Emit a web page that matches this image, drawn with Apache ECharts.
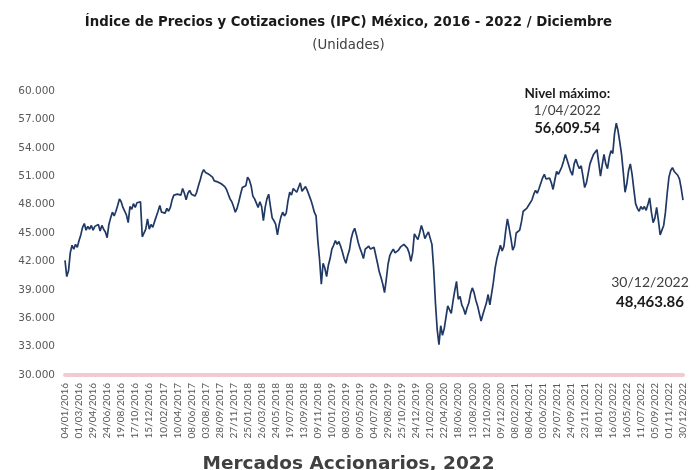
<!DOCTYPE html>
<html>
<head>
<meta charset="utf-8">
<script src="https://cdn.jsdelivr.net/npm/echarts@6/dist/echarts.min.js"></script>
<style>
html,body{margin:0;padding:0;background:#fff;}
#chart{width:697px;height:470px;}
</style>
</head>
<body>
<div id="chart"></div>
<script>
const tickLabels = ['04/01/2016','01/03/2016','29/04/2016','24/06/2016','19/08/2016','17/10/2016','15/12/2016','10/02/2017','10/04/2017','08/06/2017','03/08/2017','28/09/2017','27/11/2017','25/01/2018','26/03/2018','24/05/2018','19/07/2018','13/09/2018','09/11/2018','10/01/2019','08/03/2019','09/05/2019','04/07/2019','29/08/2019','25/10/2019','24/12/2019','21/02/2020','22/04/2020','18/06/2020','13/08/2020','12/10/2020','09/12/2020','08/02/2021','08/04/2021','03/06/2021','29/07/2021','24/09/2021','23/11/2021','18/01/2022','16/03/2022','16/05/2022','11/07/2022','05/09/2022','01/11/2022','30/12/2022'];

// approx. weekly samples (8 per tick interval)
const ipcValues = [
42100,40400,41000,42900,43700,43300,43800,43500,
44200,44800,45600,46000,45300,45700,45400,45800,
45300,45700,45500,45900,45200,45800,45400,45100,
44500,45900,46600,47200,46800,47300,47900,48600,
48300,47700,47900,46900,46100,47800,47500,48100,
47700,48200,48400,48300,44600,44500,45400,46500,
45400,45900,45600,46200,46100,47300,47900,47200,
47400,47100,47600,47300,47700,48500,49000,48800,
49100,49300,49000,49700,49200,48500,49200,49500,
49100,49300,48900,49300,50000,50600,51300,51700,
51400,51500,51200,51300,50900,50500,50300,50400,
50500,50200,50400,49900,49600,49100,48600,48300,
47800,47200,47600,48300,49100,49800,49600,50000,
50900,50600,50000,48900,48600,48400,47700,48300,
47800,46300,47700,48600,49100,47800,46600,46300,
45900,44800,45900,46700,47200,46800,47100,48400,
49300,49000,49700,49800,49300,49800,50300,49400,
49600,49900,49500,49700,48500,47900,47200,46800,
44200,42200,39600,41800,41300,40400,41600,42300,
43300,43700,44200,43800,44100,43600,43000,42300,
41800,42600,43200,44400,45100,45500,44800,44000,
43400,42900,42300,43300,43100,43600,43300,43200,
43500,43400,41800,40900,40300,39600,38700,40100,
41700,42600,43000,43300,42900,42700,43200,43500,
43400,43800,43900,43400,42900,42000,42900,44900,
44800,44300,45000,45800,45200,44400,44800,45100,
45000,43800,41200,37600,34800,33200,35200,34200,
34900,36100,37300,36900,36500,37800,38900,39900,
38000,38300,37400,37000,36400,37100,37600,38600,
39200,38700,37900,37300,36500,35700,36400,37000,
37600,38500,37400,37200,39800,41300,42300,43000,
43700,43100,43600,45200,46500,45500,44400,43200,
43600,45000,44800,45300,46200,47300,47100,47600,
47900,47700,48500,49100,49500,49200,49700,49900,
50800,51200,50700,50500,50800,50300,49600,50600,
51500,51200,51600,52000,52600,53300,52700,52100,
51500,51100,52300,52800,52200,51800,52100,51000,
49800,50300,51300,52300,52800,53300,53500,53800,
52400,51000,52200,53300,52300,51800,53000,53700,
53400,55500,56609.54,55800,54600,53300,51400,49300,
50200,51600,52300,51200,49600,48100,47600,47300,
47800,47500,47800,47400,48000,48700,47200,46100,
46600,47700,46300,44800,45300,45800,47200,49200,
50900,51600,51900,51500,51600,51100,50700,49700,
48463.86
];

const maxDate = '1/04/2022';
const lastDate = '30/12/2022';

const maxValue = Math.max(...ipcValues);
const maxIndex = ipcValues.indexOf(maxValue);
const lastIndex = ipcValues.length - 1;
const lastValue = ipcValues[lastIndex];
const fmt2 = v => v.toLocaleString('en-US', {minimumFractionDigits: 2, maximumFractionDigits: 2});
const fmtDot = v => String(v).replace(/\B(?=(\d{3})+(?!\d))/g, '.');

const FONT = 'Lato';
const WIDE = 'DejaVu Sans';
const chart = echarts.init(document.getElementById('chart'), null, {renderer: 'canvas'});
chart.setOption({
  animation: false,
  backgroundColor: '#ffffff',
  textStyle: {fontFamily: FONT},
  title: [
    {text: 'Índice de Precios y Cotizaciones (IPC) México, 2016 - 2022 / Diciembre',
     left: 'center', top: 11,
     textStyle: {fontFamily: WIDE, fontSize: 13.3, fontWeight: 'bold', color: '#1a1a1a'}},
    {text: '(Unidades)', left: 'center', top: 34,
     textStyle: {fontFamily: WIDE, fontSize: 13.3, fontWeight: 'normal', color: '#404040'}},
    {text: 'Mercados Accionarios, 2022', left: 'center', top: 450,
     textStyle: {fontFamily: WIDE, fontSize: 18.5, fontWeight: 'bold', color: '#404040'}}
  ],
  grid: {left: 65, right: 14, top: 91, bottom: 95, containLabel: false},
  xAxis: {
    type: 'value', min: 0, max: 352, interval: 8,
    axisLine: {show: true, onZero: false, lineStyle: {color: '#f1cbcf', width: 4}},
    axisTick: {show: false},
    splitLine: {show: false},
    axisLabel: {rotate: 90, fontSize: 10, color: '#595959', margin: 8,
      showMinLabel: true, showMaxLabel: true,
      formatter: v => tickLabels[Math.round(v / 8)] || ''}
  },
  yAxis: {
    type: 'value', min: 30000, max: 60000, interval: 3000,
    axisLine: {show: false}, axisTick: {show: false}, splitLine: {show: false},
    axisLabel: {fontFamily: WIDE, fontSize: 10.5, color: '#595959', margin: 10, formatter: v => fmtDot(v)}
  },
  series: [{
    type: 'line',
    data: ipcValues.map((v, i) => [i, v]),
    showSymbol: false,
    lineStyle: {color: '#1f3864', width: 1.7},
    itemStyle: {color: '#1f3864'},
    markLine: {
      silent: true, symbol: 'none',
      lineStyle: {color: '#c0504d', type: 'dotted', width: 1},
      label: {show: false},
      data: [[{coord: [4, maxValue]}, {coord: [358, maxValue]}]]
    },
    markPoint: {
      symbol: 'circle', symbolSize: 0,
      data: [
        {coord: [maxIndex, maxValue],
         label: {show: true, position: 'inside', offset: [-49, -12],
           formatter: '{a|Nivel máximo:}\n{b|' + maxDate + '}\n{c|' + fmt2(maxValue) + '}',
           rich: {
             a: {fontFamily: FONT, fontSize: 13.5, fontWeight: 'bold', color: '#1a1a1a', lineHeight: 17, align: 'center'},
             b: {fontFamily: FONT, fontSize: 13.5, color: '#404040', lineHeight: 17, align: 'center'},
             c: {fontFamily: FONT, fontSize: 14.5, fontWeight: 'bold', color: '#1a1a1a', lineHeight: 18, align: 'center'}
           }}},
        {coord: [lastIndex, lastValue],
         label: {show: true, position: 'inside', offset: [-33, 92],
           formatter: '{b|' + lastDate + '}\n{c|' + fmt2(lastValue) + '}',
           rich: {
             b: {fontFamily: FONT, fontSize: 14, color: '#404040', lineHeight: 20, align: 'center'},
             c: {fontFamily: FONT, fontSize: 15, fontWeight: 'bold', color: '#1a1a1a', lineHeight: 20, align: 'center'}
           }}}
      ]
    }
  }]
});
</script>
</body>
</html>
